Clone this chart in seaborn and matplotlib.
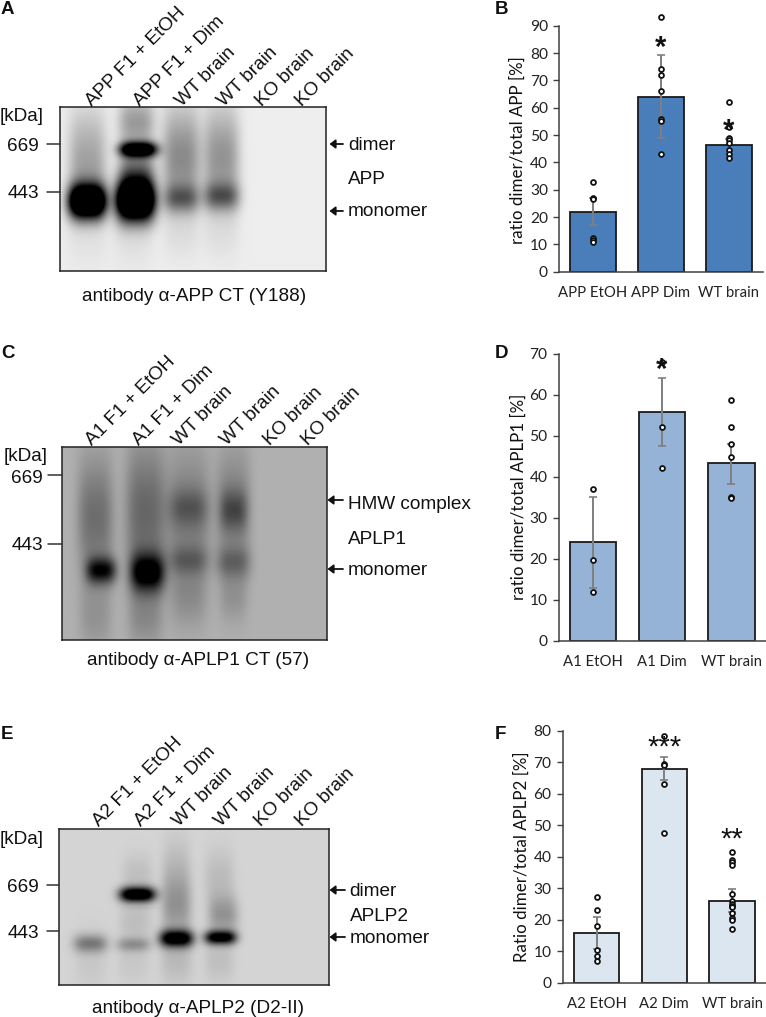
import numpy as np, pandas as pd
import matplotlib
matplotlib.use("Agg")
import matplotlib.pyplot as plt
import seaborn as sns

W, H = 766, 1017
sns.set_style("white")
plt.rcParams['font.family'] = ['Liberation Sans', 'DejaVu Sans']

# ---- quantification data ----
app_groups = ["APP EtOH", "APP Dim", "WT brain"]
app_means = [22, 64, 46.5]
app_low = [17, 48.8, 44.5]
app_high = [27, 79.2, 48.5]
app_pts = [[32.7, 27, 26.7, 12.5, 11.5, 11], [93, 74, 72, 66, 56, 55, 43], [62, 53, 49, 48, 47, 44.5, 43, 41.5]]

a1_groups = ["A1 EtOH", "A1 Dim", "WT brain"]
a1_means = [24, 55.8, 43.3]
a1_low = [12.8, 47.5, 38.2]
a1_high = [35, 64.1, 48]
a1_pts = [[37, 19.6, 12], [68, 52.2, 42.2], [58.7, 52.2, 48, 44.8, 35, 34.8]]

a2_groups = ["A2 EtOH", "A2 Dim", "WT brain"]
a2_means = [15.8, 68, 26]
a2_low = [10.8, 64.2, 22.3]
a2_high = [20.8, 71.8, 29.7]
a2_pts = [[27.2, 23, 18, 10.3, 8.5, 6.8], [78.3, 69.5, 69, 63.2, 47.5],
          [41.5, 39, 38.3, 37.5, 28.2, 26, 25, 24.5, 24, 22, 20.5, 20, 17.2]]

# ---- gel lane labels ----
lanes_a = ["APP F1 + EtOH", "APP F1 + Dim", "WT brain", "WT brain", "KO brain", "KO brain"]
lanes_c = ["A1 F1 + EtOH", "A1 F1 + Dim", "WT brain", "WT brain", "KO brain", "KO brain"]
lanes_e = ["A2 F1 + EtOH", "A2 F1 + Dim", "WT brain", "WT brain", "KO brain", "KO brain"]

# ---- gel band densities: lane x, migration y, half width, half height, density ----
bands_a = [(27, 94, 19, 17, 1.8), (27, 60, 19, 35, .3), (27, 20, 19, 30, .12), (27, 130, 20, 30, .05),
           (75, 93, 19.5, 20, 2.0), (78, 42, 19, 7.5, 1.3), (76, 65, 18, 22, .5), (76, 15, 18, 25, .35), (73, 130, 20, 30, .06),
           (121, 91, 18, 14, .45), (121, 50, 19, 50, .42), (121, 130, 18, 25, .04),
           (161, 89, 18, 14, .48), (161, 50, 18, 50, .38), (161, 130, 18, 25, .04)]
bands_c = [(39, 123, 15, 13, .85), (33, 70, 18, 60, .38), (33, 170, 16, 35, .15),
           (85, 125, 17, 19, 1.05), (83, 65, 20, 70, .42), (83, 170, 17, 30, .2),
           (126, 60, 20, 18, .25), (126, 70, 22, 70, .3), (126, 113, 20, 14, .28), (126, 150, 18, 30, .15),
           (171, 63, 14, 20, .35), (171, 60, 17, 60, .28), (171, 115, 17, 16, .33), (171, 150, 14, 25, .15)]
bands_e = [(31, 113, 17, 9, .4), (31, 130, 16, 30, .06),
           (74, 114, 17, 7, .28), (78, 65, 18, 7.5, 1.3), (78, 45, 15, 20, .1), (76, 90, 16, 20, .1), (74, 130, 16, 25, .06),
           (117, 108, 17, 8.5, 1.15), (117, 75, 15, 30, .3), (117, 35, 14, 30, .1), (117, 130, 16, 25, .12),
           (161, 107, 16, 7, 1.1), (164, 85, 15, 18, .28), (160, 50, 15, 30, .12), (160, 130, 15, 22, .1)]

fig = plt.figure(figsize=(W / 100, H / 100), dpi=100, facecolor="white")

def px_axes(x0, y0, x1, y1):
    return fig.add_axes([x0 / W, 1 - y1 / H, (x1 - x0) / W, (y1 - y0) / H])

def gel(box, bands, background):
    x0, y0, x1, y1 = box
    ax = px_axes(x0, y0, x1, y1)
    yy, xx = np.mgrid[0:int(round(y1 - y0)), 0:int(round(x1 - x0))]
    dens = np.zeros(xx.shape, float)
    for bx, by, hw, hh, d in bands:
        dens += d * np.exp(-np.abs((xx - bx) / hw) ** 3.2) * np.exp(-np.abs((yy - by) / hh) ** 2)
    img = np.clip(background - dens * background, 0, 1)
    sns.heatmap(img, cmap="gray", vmin=0, vmax=1, cbar=False, xticklabels=False, yticklabels=False, ax=ax,
                rasterized=True)
    for s in ax.spines.values():
        s.set_visible(True)
        s.set_color("#222222")
        s.set_linewidth(1.1)
    return ax

gel((60.3, 107.3, 326.3, 271.3), bands_a, .93)
gel((62, 446.7, 326.7, 640), bands_c, .69)
gel((59.3, 829.3, 329, 984.7), bands_e, .83)

def bars(box, groups, means, low, high, pts, colour, ymax, step, ylabel, label_x, label_y):
    x0, y0, x1, y1 = box
    ax = px_axes(x0, y0, x1, y1)
    df = pd.DataFrame({"g": groups, "v": means})
    sns.barplot(data=df, x="g", y="v", order=groups, color=colour, saturation=1, width=.67,
                edgecolor="#1a1a1a", linewidth=1.3, errorbar=None, ax=ax)
    xs = np.arange(len(groups))
    ax.errorbar(xs, means, yerr=[np.array(means) - low, np.array(high) - means], fmt="none",
                ecolor="#7f7f7f", elinewidth=1.4, capsize=3, capthick=1.2, zorder=4, clip_on=False)
    long = pd.DataFrame([(g, v) for g, p in zip(groups, pts) for v in p], columns=["g", "v"])
    sns.stripplot(data=long, x="g", y="v", order=groups, jitter=False, color="white", edgecolor="#111111",
                  linewidth=1.3, size=3.5, zorder=5, ax=ax)
    for c in ax.collections:
        c.set_clip_on(False)
    ax.set_xlim(-.5, 2.5)
    ax.set_ylim(0, ymax)
    ax.set_yticks(np.arange(0, ymax + 1, step))
    ax.set_xlabel("")
    ax.set_ylabel(ylabel, fontsize=12.2, family="Lato", color="#111111")
    ax.yaxis.set_label_coords((label_x - x0) / (x1 - x0), (y1 - label_y) / (y1 - y0))
    ax.tick_params(axis="y", left=True, length=4, width=1, color="#404040", labelsize=11.2, labelcolor="#222222", pad=4)
    ax.tick_params(axis="x", bottom=False, labelsize=10.7, labelcolor="#222222", pad=7)
    for t in ax.get_xticklabels() + ax.get_yticklabels():
        t.set_family("Lato")
    sns.despine(ax=ax)
    for s in ("left", "bottom"):
        ax.spines[s].set_color("#404040")
        ax.spines[s].set_linewidth(1.1)
    ax.patch.set_alpha(0)
    return ax

bars((559, 25.7, 763, 271.7), app_groups, app_means, app_low, app_high, app_pts, "#4A7EBB", 90, 10,
     "ratio dimer/total APP [%]", 526, 150)
bars((558.7, 353.7, 766, 640.7), a1_groups, a1_means, a1_low, a1_high, a1_pts, "#95B3D7", 70, 10,
     "ratio dimer/total APLP1 [%]", 527, 497)
bars((562.7, 730.7, 766, 982.7), a2_groups, a2_means, a2_low, a2_high, a2_pts, "#DCE6F1", 80, 10,
     "Ratio dimer/total APLP2 [%]", 530, 857)

# ---- annotation layer in figure pixels ----
ov = fig.add_axes([0, 0, 1, 1])
ov.set_xlim(0, W)
ov.set_ylim(H, 0)
ov.axis("off")
ov.patch.set_alpha(0)

FS = 13.7
def T(x, y, s, ha="left", va="center", size=FS, **kw):
    ov.text(x, y + 1.5, s, ha=ha, va=va, fontsize=size, color="#111111", **kw)

for (x, y, s) in [(1, 8, "A"), (495, 8, "B"), (1, 352, "C"), (495, 352, "D"), (1, 733, "E"), (495, 733, "F")]:
    T(x, y, s, fontweight="bold", size=13.5)

def lane_labels(xs, y, labels):
    for x, s in zip(xs, labels):
        ov.text(x, y, s, rotation=45, rotation_mode="anchor", ha="left", va="baseline", fontsize=FS, color="#111111")

lane_labels([92, 140, 182, 224, 262, 302], 107, lanes_a)
lane_labels([92, 139, 179, 227, 270, 308], 446, lanes_c)
lane_labels([99, 141, 179, 221, 261, 302], 827, lanes_e)

def ladder(kda, y669, y443, tick_l, tick_r, txt_r, t669, t443):
    T(txt_r + 5, kda, "[kDa]", ha="right")
    T(txt_r, t669, "669", ha="right")
    T(txt_r, t443, "443", ha="right")
    for y in (y669, y443):
        ov.plot([tick_l, tick_r], [y, y], color="#333333", lw=1.1)

ladder(115, 143.7, 192, 47, 60.3, 39, 145, 192)
ladder(455, 475, 544, 48, 62, 43, 477, 544)
ladder(838, 885, 931, 47, 59.3, 39, 886, 932)

def arrow(y, x0, x1):
    ov.annotate("", xy=(x0, y), xytext=(x1, y),
                arrowprops=dict(arrowstyle="-|>,head_width=0.26,head_length=0.34", color="#111111", lw=1.3,
                                shrinkA=0, shrinkB=0))

for y, s in [(144, "dimer"), (178, "APP"), (210, "monomer")]:
    T(348, y, s)
arrow(144, 329.5, 343); arrow(211, 329.5, 343)
for y, s in [(503, "HMW complex"), (538, "APLP1"), (569, "monomer")]:
    T(348, y, s)
arrow(500, 327.5, 343); arrow(569, 327.5, 343)
for y, s in [(890, "dimer"), (915, "APLP2"), (937, "monomer")]:
    T(349.5, y, s)
arrow(890, 329.5, 345); arrow(937, 329.5, 345)

T(194, 295, "antibody α-APP CT (Y188)", ha="center")
T(198, 659, "antibody α-APLP1 CT (57)", ha="center")
T(198, 1007, "antibody α-APLP2 (D2-II)", ha="center")

# significance stars
for x, y, s, w in [(661, 48, "*", "bold"), (729, 131, "*", "bold"), (662, 370, "*", "bold"),
                   (665, 748, "***", "normal"), (732, 840, "**", "normal")]:
    ov.text(x, y, s, ha="center", va="center", fontsize=21, fontweight=w, color="#111111", family="Liberation Sans")

fig.savefig("out.png", dpi=100)
